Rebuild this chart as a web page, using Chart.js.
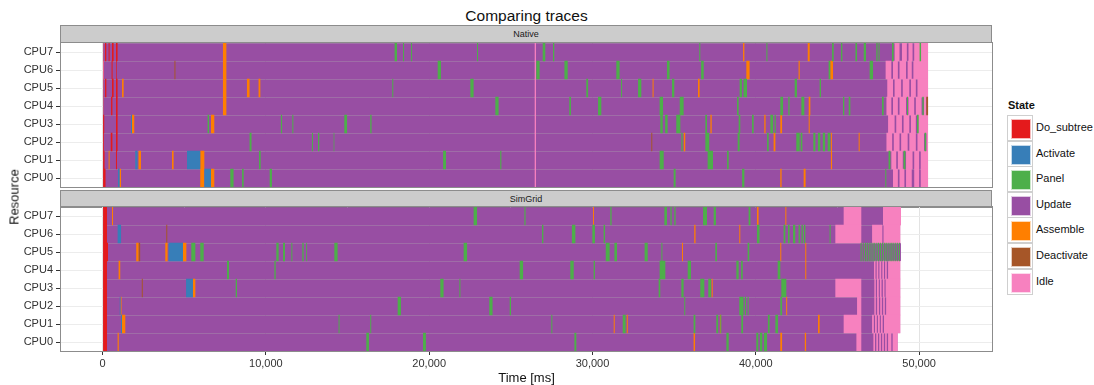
<!DOCTYPE html>
<html><head><meta charset="utf-8">
<script src="https://cdn.jsdelivr.net/npm/chart.js@4.4.1/dist/chart.umd.min.js"></script>
<style>
body{margin:0;width:1094px;height:385px;position:relative;background:#fff;font-family:"Liberation Sans",Arial,sans-serif;overflow:hidden}
#title{position:absolute;left:61px;width:931px;top:7px;text-align:center;font-size:15.5px;color:#111;line-height:18px}
.strip{position:absolute;left:60px;width:932px;height:18px;box-sizing:border-box;background:#cccccc;border:1px solid #8c8c8c;text-align:center;font-size:9px;line-height:16px;color:#1a1a1a}
canvas{position:absolute;left:0}
#xt{position:absolute;left:61px;width:931px;top:370px;text-align:center;font-size:13px;color:#111;line-height:15px}
#yt{position:absolute;left:14px;top:197px;transform:translate(-50%,-50%) rotate(-90deg);font-size:13px;font-weight:normal;color:#111;white-space:nowrap;line-height:15px}
#legend{position:absolute;left:1007px;top:99px;font-size:11px;color:#111}
#legend .lt{font-weight:bold;height:16px;line-height:13px;padding-left:1px}
.key{position:relative;height:25.6px;line-height:25.6px}
.sw{position:absolute;left:0;top:0;width:26px;height:26px;box-sizing:border-box;border:1px solid #cfcfcf;background:#fff}
.sw i{position:absolute;left:3px;top:3px;width:18px;height:18px;border:0.5px solid rgba(255,255,255,0.7)}
.key span{position:absolute;left:29px;top:0;white-space:nowrap}
</style></head>
<body>
<div id="title">Comparing traces</div>
<div class="strip" style="top:25px">Native</div>
<div class="strip" style="top:190px">SimGrid</div>
<canvas id="c1" width="1000" height="153" style="top:37px"></canvas>
<canvas id="c2" width="1000" height="170" style="top:201px"></canvas>
<div id="xt">Time [ms]</div>
<div id="yt">Resource</div>
<div id="legend"><div class="lt">State</div><div id="keys"></div></div>
<script>
// ---------- categories / ticks ----------
const cpus = ['CPU7','CPU6','CPU5','CPU4','CPU3','CPU2','CPU1','CPU0'];
const xTicks = [0,5000,10000,15000,20000,25000,30000,35000,40000,45000,50000];
const states = ['Do_subtree','Activate','Panel','Update','Assemble','Deactivate','Idle'];
const stateColors = ['#E41A1C','#377EB8','#4DAF4A','#984EA3','#FF7F00','#A65628','#F781BF'];

// ---------- Native trace: end time per CPU (index = CPU number) ----------
const nativeEnd = [50550,50550,50550,50550,50550,50550,50550,50550];
// [cpu, start, end] in ms
const nativeDoSubtree = [
 [7,0,50],[7,147,227],[7,367,429],[7,575,674],[7,820,918],
 [6,0,50],[6,551,612],[6,839,880],
 [5,0,50],[5,150,230],[5,575,674],[5,820,918],
 [4,0,50],[4,520,600],[4,820,918],
 [3,0,100],[3,820,918],
 [2,0,80],[2,500,600],[2,820,918],
 [1,0,120],[1,820,880],
 [0,0,180]];
const nativeActivate = [[3,1740,1800],[1,2000,2140],[1,5170,5980],[0,940,1040],[0,6230,6640]];
const nativePanel = [
 [7,17880,18030],[7,18400,18460],[7,18890,18950],[7,22930,22990],[7,26950,27110],[7,27580,27660],[7,36540,36600],[7,40650,40710],[7,44670,44770],[7,45220,45300],[7,46100,46200],[7,46610,46750],[7,47380,47460],[7,47520,47580],[7,48340,48440],[7,50030,50120],
 [6,20520,20720],[6,26560,26760],[6,28280,28480],[6,31460,31660],[6,34560,34720],[6,36650,36810],[6,44460,44560],[6,46970,47180],
 [5,17740,17800],[5,22520,22720],[5,29620,29730],[5,31750,31810],[5,32790,32990],[5,34870,35010],[5,39010,39150],[5,39250,39460],[5,42380,42520],[5,43910,43990],
 [4,24050,24250],[4,28580,28680],[4,30340,30540],[4,34110,34320],[4,35340,35580],[4,38850,38950],[4,41500,41670],[4,41990,42070],[4,42790,42970],[4,45340,45420],[4,45690,45790],[4,47730,47830],[4,49260,49320],[4,50200,50280],
 [3,6430,6520],[3,10920,10990],[3,11620,11680],[3,14800,14970],[3,16390,16470],[3,34150,34300],[3,34450,34600],[3,35130,35380],[3,36910,37010],[3,38950,39050],[3,39770,39870],[3,40890,41060],[3,41150,41220],[3,49870,49970],
 [2,9000,9120],[2,12820,12880],[2,13190,13270],[2,14150,14190],[2,35440,35520],[2,36910,37150],[2,38890,39010],[2,40690,40790],[2,42480,42690],[2,42750,42850],[2,43520,43650],[2,43800,43950],[2,44100,44250],[2,44400,44560],[2,50340,50430],
 [1,9580,9680],[1,20850,21030],[1,24350,24420],[1,34110,34360],[1,37050,37380],[1,38240,38340],[1,48130,48240],[1,49050,49160],
 [0,7820,8020],[0,8540,8640],[0,10230,10370],[0,34970,35090],[0,39160,39300],[0,47930,47990]];
const nativeAssemble = [
 [7,7370,7580],[7,39220,39300],[7,43180,43300],
 [6,7370,7580],[6,39420,39620],[6,42620,42690],[6,44560,44730],
 [5,1190,1290],[5,7370,7580],[5,8840,9000],[5,9550,9660],[5,33680,33740],[5,36460,36560],
 [4,7370,7580],[4,43240,43340],
 [3,1800,1940],[3,6640,6840],[3,37220,37300],[3,40520,40600],[3,41500,41610],[3,43240,43300],
 [2,35590,35680],[2,41090,41200],[2,44600,44660],[2,46300,46360],
 [1,370,430],[1,2200,2350],[1,4250,4350],[1,5980,6230],[1,44600,44670],
 [0,1040,1130],[0,5980,6230],[0,6640,6840],[0,41500,41580],[0,42930,43050]];
const nativeDeactivate = [[4,50440,50550],[6,4400,4460],[2,33600,33660]];
const nativeIdle = [
 [7,26460,26540],[6,26460,26540],[5,26460,26540],[4,26460,26540],[3,26460,26540],[2,26460,26540],[1,26460,26540],[0,26460,26540],
 [6,0,80],
 [7,48500,48800],[7,48950,49250],[7,49350,49600],[7,49700,50550],
 [6,47950,48300],[6,48400,48700],[6,48800,49200],[6,49300,49550],[6,49650,50550],
 [5,48050,48400],[5,48500,48900],[5,49000,49400],[5,49500,49800],[5,49900,50550],
 [4,48000,48300],[4,48400,48700],[4,48800,49200],[4,49350,49700],[4,49800,50150],[4,50300,50440],
 [3,48100,48500],[3,48600,48950],[3,49050,49400],[3,49500,49800],[3,49950,50550],
 [2,48000,48350],[2,48450,48800],[2,48900,49300],[2,49400,49800],[2,49900,50300],[2,50450,50550],
 [1,48300,48600],[1,48700,49000],[1,49200,49600],[1,49700,50000],[1,50100,50550],
 [0,48400,48700],[0,48800,49100],[0,49200,49550],[0,49700,50000],[0,50100,50550]];

// ---------- SimGrid trace ----------
const simEnd = [48690,48850,48850,48850,48850,48890,48850,48890];
const simDoSubtree = [[7,0,270],[6,0,270],[5,0,330],[4,0,270],[3,0,270],[2,0,270],[1,0,270],[0,0,270]];
const simActivate = [[6,920,1130],[5,4040,4920],[3,5110,5530],[2,1050,1100],[1,1130,1190]];
const simPanel = [
 [7,22720,22930],[7,25830,25900],[7,31090,31170],[7,34400,34560],[7,34770,34850],[7,35010,35090],[7,36770,37010],[7,37420,37560],[7,39560,39670],
 [6,26910,26990],[6,28740,28950],[6,29990,30150],[6,30680,30770],[6,40070,40230],[6,41700,41810],[6,41970,42070],[6,42280,42420],[6,42620,42700],[6,42800,42880],[6,42950,43030],[6,44520,44580],
 [5,5430,5680],[5,5980,6190],[5,10640,10780],[5,11050,11170],[5,11560,11620],[5,12230,12310],[5,12470,12520],[5,14190,14390],[5,22110,22320],[5,30810,31050],[5,31340,31500],[5,33190,33380],[5,34220,34280],[5,37520,37620],[5,39500,39600],
 [5,46420,46480],[5,46560,46610],[5,46690,46760],[5,46820,46880],[5,46950,47020],[5,47090,47140],[5,47210,47280],[5,47350,47400],[5,47470,47540],[5,47600,47660],[5,47730,47790],[5,47860,47930],[5,47990,48050],[5,48120,48180],[5,48250,48320],[5,48380,48440],[5,48510,48570],[5,48640,48700],[5,48770,48830],
 [4,7620,7740],[4,10520,10600],[4,25540,25750],[4,28640,28850],[4,30070,30150],[4,34110,34460],[4,35830,36030],[4,38810,38950],[4,39100,39200],[4,41340,41500],
 [3,8150,8230],[3,20680,20880],[3,21850,21910],[3,34050,34150],[3,35440,35580],[3,36600,36850],[3,37090,37260],[3,41560,41870],
 [2,18070,18270],[2,23680,23880],[2,24930,25010],[2,35620,35680],[2,38990,39250],[2,39330,39400],[2,39500,39560],[2,41500,41610],
 [1,14450,14510],[1,16390,16450],[1,27480,27540],[1,31850,32030],[1,36190,36300],[1,37580,37690],[1,37830,37890],[1,39110,39220],[1,40740,40850],[1,41200,41360],
 [0,16150,16310],[0,19620,19800],[0,28890,29010],[0,38200,38340],[0,40030,40150],[0,40250,40400],[0,40500,40690]];
const simAssemble = [
 [7,575,640],[7,30030,30090],[7,40070,40170],[7,41810,41870],
 [6,36230,36310],[6,38990,39050],
 [5,2060,2200],[5,3840,3980],[5,4920,5130],[5,35480,35540],[5,41500,41560],[5,43030,43090],
 [4,980,1080],[4,43030,43090],
 [3,5530,5680],[3,37300,37360],
 [2,1100,1160],[2,41860,41920],
 [1,1190,1390],[1,31300,31360],[1,32100,32160],[1,37800,37860],[1,43810,43910],
 [0,920,990],[0,36190,36280],[0,41500,41610],[0,43000,43080]];
const simDeactivate = [[5,2200,2300],[3,2400,2460],[6,3900,3960]];
const simIdle = [
 [7,45380,46460],[7,47790,48890],
 [6,44870,46460],[6,47120,47750],[6,47820,48850],
 [4,47240,47330],[4,47400,47500],[4,47570,47680],[4,47750,47850],[4,47920,48020],[4,48100,48850],
 [3,44870,46460],[3,47260,47350],[3,47420,47530],[3,47600,47700],[3,47780,47880],[3,47950,48850],
 [2,46200,46460],[2,47260,47350],[2,47430,47540],[2,47620,47720],[2,47800,47900],[2,47980,48850],
 [1,45380,46460],[1,47120,47230],[1,47300,47410],[1,47480,47590],[1,47660,47770],[1,47850,48850],
 [0,46160,46460],[0,47200,47300],[0,47380,47480],[0,47560,47660],[0,47740,47840],[0,47920,48020],[0,48100,48300],[0,48380,48690]];

// ---------- build ----------
const X_MIN = -2547, X_MAX = 54464;
function seg(list){ return list.map(([c,s,e]) => ({y:'CPU'+c, x:[s,e]})); }
function ds(list, color, order){
  return {data: seg(list), backgroundColor: color, order: order, grouped:false,
          barPercentage:1.03, categoryPercentage:1, borderWidth:0, borderSkipped:false};
}
function datasets(end, doS, act, pan, asm, deact, idle){
  const base = end.map((e,i)=>[i,0,e]);
  return [
    ds(doS, stateColors[0], 1),
    ds(act, stateColors[1], 2),
    ds(pan, stateColors[2], 3),
    ds(asm, stateColors[4], 4),
    ds(deact, stateColors[5], 5),
    ds(idle, stateColors[6], 8),
    Object.assign(ds(base, stateColors[3], 10), {borderColor:'#86518f', borderWidth:{top:1,bottom:0,left:0,right:0}})
  ];
}
const borderPlugin = {
  id:'panelBorder',
  afterDraw(chart){
    const a = chart.chartArea, ctx = chart.ctx;
    ctx.save(); ctx.strokeStyle = '#8c8c8c'; ctx.lineWidth = 1;
    ctx.strokeRect(Math.round(a.left)-0.5, Math.round(a.top)-0.5, Math.round(a.right-a.left)+1, Math.round(a.bottom-a.top)+1);
    ctx.restore();
  }
};
function makeChart(id, dsets, showX){
  return new Chart(document.getElementById(id), {
    type:'bar',
    data:{labels:cpus, datasets:dsets},
    options:{
      indexAxis:'y', responsive:false, animation:false,
      devicePixelRatio:1,
      layout:{padding:{left:0,right:8,top:6,bottom: showX ? 0 : 3}},
      plugins:{legend:{display:false}, tooltip:{enabled:false}},
      scales:{
        x:{type:'linear', min:X_MIN, max:X_MAX,
           afterBuildTicks: s => { s.ticks = xTicks.map(v=>({value:v})); },
           afterFit: s => { s.height = showX ? 20 : 0; s.paddingLeft = 0; s.paddingRight = 0; },
           border:{display:false},
           grid:{color: c => (c.tick && c.tick.value % 10000 === 0) ? '#e3e3e3' : '#f4f4f4',
                 drawTicks: showX, tickLength:4,
                 tickColor: c => (c.tick && c.tick.value % 10000 === 0) ? '#333' : 'rgba(0,0,0,0)'},
           ticks:{display: showX, autoSkip:false, maxRotation:0, padding:2, color:'#333',
                  font:{family:'"Liberation Sans", Arial, sans-serif', size:11},
                  callback: v => (v % 10000 === 0) ? v.toLocaleString('en-US') : ''}},
        y:{type:'category', offset:true,
           afterFit: s => { s.width = 61; s.paddingTop = 0; s.paddingBottom = 0; },
           border:{display:false},
           grid:{offset:false, color:'#ececec', tickLength:5, tickColor:'#333'},
           ticks:{padding:3, color:'#333', font:{family:'"Liberation Sans", Arial, sans-serif', size:11}}}
      }
    },
    plugins:[borderPlugin]
  });
}
makeChart('c1', datasets(nativeEnd, nativeDoSubtree, nativeActivate, nativePanel, nativeAssemble, nativeDeactivate, nativeIdle), false);
makeChart('c2', datasets(simEnd, simDoSubtree, simActivate, simPanel, simAssemble, simDeactivate, simIdle), true);

// legend
const keys = document.getElementById('keys');
states.forEach((s,i)=>{
  const d = document.createElement('div'); d.className='key';
  d.innerHTML = '<div class="sw"><i style="background:'+stateColors[i]+'"></i></div><span>'+s+'</span>';
  keys.appendChild(d);
});
</script>
</body></html>
